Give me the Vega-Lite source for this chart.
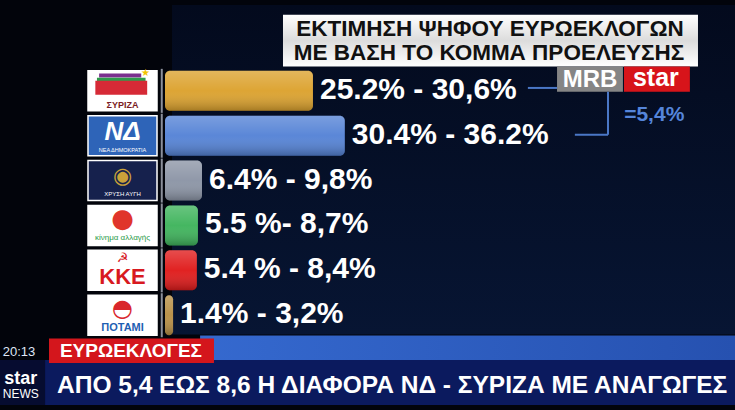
{
  "$schema": "https://vega.github.io/schema/vega-lite/v6.json",
  "width": 735,
  "height": 410,
  "autosize": {"type": "none"},
  "padding": 0,
  "background": "#02040b",
  "config": {"view": {"stroke": null}, "axis": {"disable": true}, "legend": {"disable": true}},
  "resolve": {"scale": {"color": "independent"}},
  "datasets": {
    "parties": [
      {"party": "ΣΥΡΙΖΑ", "row": 1, "share": 27.4, "range": "25.2% - 30,6%", "logo": "", "cap": "ΣΥΡΙΖΑ"},
      {"party": "ΝΔ", "row": 2, "share": 33.3, "range": "30.4% - 36.2%", "logo": "ΝΔ", "cap": "ΝΕΑ ΔΗΜΟΚΡΑΤΙΑ"},
      {"party": "ΧΑ", "row": 3, "share": 6.85, "range": "6.4% - 9,8%", "logo": "◉", "cap": "ΧΡΥΣΗ ΑΥΓΗ"},
      {"party": "ΚΙΝΑΛ", "row": 4, "share": 6.1, "range": "5.5 %- 8,7%", "logo": "●", "cap": "κίνημα αλλαγής"},
      {"party": "ΚΚΕ", "row": 5, "share": 5.9, "range": "5.4 % - 8,4%", "logo": "☭", "cap": "ΚΚΕ"},
      {"party": "ΠΟΤΑΜΙ", "row": 6, "share": 1.5, "range": "1.4% - 3,2%", "logo": "◓", "cap": "ΠΟΤΑΜΙ"}
    ]
  },
  "data": {"name": "parties"},
  "layer": [
    {
      "data": {"values": [{}]},
      "mark": {"type": "rect", "color": {"gradient": "linear", "x1": 0, "y1": 0, "x2": 0, "y2": 1, "stops": [{"offset": 0, "color": "#030a1d"}, {"offset": 1, "color": "#071533"}]}},
      "encoding": {
        "x": {"datum": 1.3, "type": "quantitative", "scale": {"domain": [-30.556, 105.556], "nice": false, "zero": false}},
        "x2": {"datum": 105.6},
        "y": {"datum": -0.913, "type": "quantitative", "scale": {"domain": [-0.913, 8.0], "nice": false, "zero": false, "reverse": true}},
        "y2": {"datum": 6.43}
      }
    },
    {
      "data": {"values": [{}]},
      "mark": {"type": "rect", "color": {"gradient": "linear", "x1": 0, "y1": 0, "x2": 1, "y2": 0, "stops": [{"offset": 0, "color": "#3569cf"}, {"offset": 1, "color": "#2651b0"}]}},
      "encoding": {
        "x": {"datum": 6.5, "type": "quantitative"}, "x2": {"datum": 105.6},
        "y": {"datum": 6.45, "type": "quantitative"}, "y2": {"datum": 7.0}
      }
    },
    {
      "data": {"values": [{}]},
      "mark": {"type": "rect", "color": "#0b1a5e"},
      "encoding": {
        "x": {"datum": -30.6, "type": "quantitative"}, "x2": {"datum": 105.6},
        "y": {"datum": 7.0, "type": "quantitative"}, "y2": {"datum": 8.0}
      }
    },
    {
      "data": {"values": [{}]},
      "mark": {"type": "rect", "color": "#060c30"},
      "encoding": {
        "x": {"datum": -30.6, "type": "quantitative"}, "x2": {"datum": -22.2},
        "y": {"datum": 7.0, "type": "quantitative"}, "y2": {"datum": 8.0}
      }
    },
    {
      "data": {"values": [{}]},
      "mark": {"type": "rect", "color": "#d4161c"},
      "encoding": {
        "x": {"datum": -21.48, "type": "quantitative"}, "x2": {"datum": 9.07},
        "y": {"datum": 6.52, "type": "quantitative"}, "y2": {"datum": 7.065}
      }
    },
    {
      "data": {"values": [{"t": "ΕΥΡΩΕΚΛΟΓΕΣ"}]},
      "mark": {"type": "text", "font": "Liberation Sans", "fontWeight": "bold", "fontSize": 19, "color": "#ffffff", "baseline": "middle", "align": "center"},
      "encoding": {"x": {"datum": -6.3, "type": "quantitative"}, "y": {"datum": 6.8, "type": "quantitative"}, "text": {"field": "t"}}
    },
    {
      "data": {"values": [{"t": "20:13"}]},
      "mark": {"type": "text", "font": "Liberation Sans", "fontSize": 13, "color": "#dfe6f5", "baseline": "middle", "align": "center"},
      "encoding": {"x": {"datum": -27.04, "type": "quantitative"}, "y": {"datum": 6.83, "type": "quantitative"}, "text": {"field": "t"}}
    },
    {
      "data": {"values": [{"t": "star"}]},
      "mark": {"type": "text", "font": "Liberation Sans", "fontWeight": "bold", "fontSize": 18, "color": "#ffffff", "baseline": "middle", "align": "center"},
      "encoding": {"x": {"datum": -26.7, "type": "quantitative"}, "y": {"datum": 7.41, "type": "quantitative"}, "text": {"field": "t"}}
    },
    {
      "data": {"values": [{"t": "NEWS"}]},
      "mark": {"type": "text", "font": "Liberation Sans", "fontSize": 12, "color": "#ffffff", "baseline": "middle", "align": "center"},
      "encoding": {"x": {"datum": -26.7, "type": "quantitative"}, "y": {"datum": 7.76, "type": "quantitative"}, "text": {"field": "t"}}
    },
    {
      "data": {"values": [{"t": "ΑΠΟ 5,4 ΕΩΣ 8,6 Η ΔΙΑΦΟΡΑ ΝΔ - ΣΥΡΙΖΑ ΜΕ ΑΝΑΓΩΓΕΣ"}]},
      "mark": {"type": "text", "font": "Liberation Sans", "fontWeight": "bold", "fontSize": 24.5, "color": "#ffffff", "baseline": "middle", "align": "left"},
      "encoding": {"x": {"datum": -20.0, "type": "quantitative"}, "y": {"datum": 7.587, "type": "quantitative"}, "text": {"field": "t"}}
    },
    {
      "data": {"values": [{}]},
      "mark": {"type": "rect", "color": {"gradient": "linear", "x1": 0, "y1": 0, "x2": 0, "y2": 1, "stops": [{"offset": 0, "color": "#ffffff"}, {"offset": 0.5, "color": "#dcdcdc"}, {"offset": 1, "color": "#ffffff"}]}},
      "encoding": {
        "x": {"datum": 21.85, "type": "quantitative"}, "x2": {"datum": 98.7},
        "y": {"datum": -0.696, "type": "quantitative"}, "y2": {"datum": 0.457}
      }
    },
    {
      "data": {"values": [{"t": "ΕΚΤΙΜΗΣΗ ΨΗΦΟΥ ΕΥΡΩΕΚΛΟΓΩΝ"}]},
      "mark": {"type": "text", "font": "Liberation Sans", "fontWeight": "bold", "fontSize": 22.5, "color": "#111111", "baseline": "middle", "align": "center"},
      "encoding": {"x": {"datum": 60.19, "type": "quantitative"}, "y": {"datum": -0.37, "type": "quantitative"}, "text": {"field": "t"}}
    },
    {
      "data": {"values": [{"t": "ΜΕ ΒΑΣΗ ΤΟ ΚΟΜΜΑ ΠΡΟΕΛΕΥΣΗΣ"}]},
      "mark": {"type": "text", "font": "Liberation Sans", "fontWeight": "bold", "fontSize": 22.5, "color": "#111111", "baseline": "middle", "align": "center"},
      "encoding": {"x": {"datum": 60.0, "type": "quantitative"}, "y": {"datum": 0.152, "type": "quantitative"}, "text": {"field": "t"}}
    },
    {
      "data": {"values": [{}]},
      "mark": {"type": "rect", "color": "#858585"},
      "encoding": {
        "x": {"datum": 72.6, "type": "quantitative"}, "x2": {"datum": 84.8},
        "y": {"datum": 0.457, "type": "quantitative"}, "y2": {"datum": 1.02}
      }
    },
    {
      "data": {"values": [{}]},
      "mark": {"type": "rect", "color": "#d7141a"},
      "encoding": {
        "x": {"datum": 85.0, "type": "quantitative"}, "x2": {"datum": 97.2},
        "y": {"datum": 0.457, "type": "quantitative"}, "y2": {"datum": 1.02}
      }
    },
    {
      "data": {"values": [{"t": "MRB"}]},
      "mark": {"type": "text", "font": "Liberation Sans", "fontWeight": "bold", "fontSize": 24, "color": "#ffffff", "baseline": "middle", "align": "center"},
      "encoding": {"x": {"datum": 78.7, "type": "quantitative"}, "y": {"datum": 0.75, "type": "quantitative"}, "text": {"field": "t"}}
    },
    {
      "data": {"values": [{"t": "star"}]},
      "mark": {"type": "text", "font": "Liberation Sans", "fontWeight": "bold", "fontSize": 25, "color": "#ffffff", "baseline": "middle", "align": "center"},
      "encoding": {"x": {"datum": 90.9, "type": "quantitative"}, "y": {"datum": 0.72, "type": "quantitative"}, "text": {"field": "t"}}
    },
    {
      "data": {"values": [{}]},
      "mark": {"type": "rule", "color": "#4a77c6", "strokeWidth": 2},
      "encoding": {"x": {"datum": 67.2, "type": "quantitative"}, "x2": {"datum": 72.6}, "y": {"datum": 0.935, "type": "quantitative"}, "y2": {"datum": 0.935}}
    },
    {
      "data": {"values": [{}]},
      "mark": {"type": "rule", "color": "#4a77c6", "strokeWidth": 2},
      "encoding": {"x": {"datum": 82.04, "type": "quantitative"}, "x2": {"datum": 82.04}, "y": {"datum": 1.02, "type": "quantitative"}, "y2": {"datum": 1.978}}
    },
    {
      "data": {"values": [{}]},
      "mark": {"type": "rule", "color": "#4a77c6", "strokeWidth": 2},
      "encoding": {"x": {"datum": 75.9, "type": "quantitative"}, "x2": {"datum": 82.04}, "y": {"datum": 1.978, "type": "quantitative"}, "y2": {"datum": 1.978}}
    },
    {
      "data": {"values": [{"t": "=5,4%"}]},
      "mark": {"type": "text", "font": "Liberation Sans", "fontWeight": "bold", "fontSize": 21, "color": "#5585da", "baseline": "middle", "align": "center"},
      "encoding": {"x": {"datum": 90.6, "type": "quantitative"}, "y": {"datum": 1.543, "type": "quantitative"}, "text": {"field": "t"}}
    },
    {
      "mark": {"type": "bar", "orient": "horizontal", "size": 40, "stroke": "#ffffff", "strokeWidth": 1.5},
      "encoding": {
        "x": {"datum": -14.26, "type": "quantitative"}, "x2": {"datum": -1.48},
        "y": {"field": "row", "type": "quantitative"},
        "color": {"field": "party", "type": "nominal", "scale": {"domain": ["ΣΥΡΙΖΑ", "ΝΔ", "ΧΑ", "ΚΙΝΑΛ", "ΚΚΕ", "ΠΟΤΑΜΙ"], "range": ["#ffffff", "#2e64b8", "#16214d", "#ffffff", "#ffffff", "#ffffff"]}}
      }
    },
    {
      "mark": {"type": "tick", "orient": "vertical", "size": 44, "thickness": 2, "color": "#c8ccd8"},
      "encoding": {"x": {"datum": -0.6, "type": "quantitative"}, "y": {"field": "row", "type": "quantitative"}}
    },
    {
      "mark": {"type": "bar", "orient": "horizontal", "size": 40, "cornerRadiusEnd": 5},
      "encoding": {
        "x": {"field": "share", "type": "quantitative"}, "x2": {"datum": 0},
        "y": {"field": "row", "type": "quantitative"},
        "color": {"field": "party", "type": "nominal", "scale": {"domain": ["ΣΥΡΙΖΑ", "ΝΔ", "ΧΑ", "ΚΙΝΑΛ", "ΚΚΕ", "ΠΟΤΑΜΙ"], "range": ["#dca22e", "#5583d6", "#8c95a6", "#3fb45c", "#e01b1b", "#b88f45"]}}
      }
    },
    {
      "mark": {"type": "bar", "orient": "horizontal", "size": 40, "cornerRadiusEnd": 5, "color": {"gradient": "linear", "x1": 0, "y1": 0, "x2": 0, "y2": 1, "stops": [{"offset": 0, "color": "rgba(255,255,255,0.22)"}, {"offset": 0.5, "color": "rgba(255,255,255,0.03)"}, {"offset": 1, "color": "rgba(0,0,0,0.25)"}]}},
      "encoding": {
        "x": {"field": "share", "type": "quantitative"}, "x2": {"datum": 0},
        "y": {"field": "row", "type": "quantitative"}
      }
    },
    {
      "mark": {"type": "text", "font": "Liberation Sans", "fontWeight": "bold", "fontSize": 30, "color": "#ffffff", "baseline": "middle", "align": "left", "dx": 7, "dy": -1},
      "encoding": {"x": {"field": "share", "type": "quantitative"}, "y": {"field": "row", "type": "quantitative"}, "text": {"field": "range"}}
    },
    {
      "data": {"values": [{}]},
      "mark": {"type": "bar", "orient": "horizontal", "size": 4, "color": "#7b2f8e"},
      "encoding": {"x": {"datum": -12.2, "type": "quantitative"}, "x2": {"datum": -4.4}, "y": {"datum": 0.66, "type": "quantitative"}}
    },
    {
      "data": {"values": [{}]},
      "mark": {"type": "bar", "orient": "horizontal", "size": 4, "color": "#2f9a4c"},
      "encoding": {"x": {"datum": -12.6, "type": "quantitative"}, "x2": {"datum": -3.6}, "y": {"datum": 0.75, "type": "quantitative"}}
    },
    {
      "data": {"values": [{}]},
      "mark": {"type": "bar", "orient": "horizontal", "size": 14, "color": "#d62a36"},
      "encoding": {"x": {"datum": -12.9, "type": "quantitative"}, "x2": {"datum": -3.3}, "y": {"datum": 0.93, "type": "quantitative"}}
    },
    {
      "data": {"values": [{"t": "★"}]},
      "mark": {"type": "text", "font": "DejaVu Sans", "fontSize": 10, "color": "#f2c400", "baseline": "middle", "align": "center"},
      "encoding": {"x": {"datum": -3.6, "type": "quantitative"}, "y": {"datum": 0.6, "type": "quantitative"}, "text": {"field": "t"}}
    },
    {
      "transform": [{"filter": "datum.party === 'ΣΥΡΙΖΑ'"}],
      "mark": {"type": "text", "font": "Liberation Sans", "fontWeight": "bold", "fontSize": 9, "color": "#7a1c24", "baseline": "middle", "align": "center", "dy": 14},
      "encoding": {"x": {"datum": -7.87, "type": "quantitative"}, "y": {"field": "row", "type": "quantitative"}, "text": {"field": "cap"}}
    },
    {
      "transform": [{"filter": "datum.party === 'ΝΔ'"}],
      "mark": {"type": "text", "font": "Liberation Sans", "fontWeight": "bold", "fontStyle": "italic", "fontSize": 26, "color": "#ffffff", "baseline": "middle", "align": "center", "dy": -4},
      "encoding": {"x": {"datum": -7.87, "type": "quantitative"}, "y": {"field": "row", "type": "quantitative"}, "text": {"field": "logo"}}
    },
    {
      "transform": [{"filter": "datum.party === 'ΝΔ'"}],
      "mark": {"type": "text", "font": "Liberation Sans", "fontSize": 5.5, "color": "#ffffff", "baseline": "middle", "align": "center", "dy": 14},
      "encoding": {"x": {"datum": -7.87, "type": "quantitative"}, "y": {"field": "row", "type": "quantitative"}, "text": {"field": "cap"}}
    },
    {
      "transform": [{"filter": "datum.party === 'ΧΑ'"}],
      "mark": {"type": "text", "font": "DejaVu Sans", "fontSize": 22, "color": "#caa23a", "baseline": "middle", "align": "center", "dy": -5},
      "encoding": {"x": {"datum": -7.87, "type": "quantitative"}, "y": {"field": "row", "type": "quantitative"}, "text": {"field": "logo"}}
    },
    {
      "transform": [{"filter": "datum.party === 'ΧΑ'"}],
      "mark": {"type": "text", "font": "Liberation Sans", "fontSize": 6, "color": "#ffffff", "baseline": "middle", "align": "center", "dy": 13},
      "encoding": {"x": {"datum": -7.87, "type": "quantitative"}, "y": {"field": "row", "type": "quantitative"}, "text": {"field": "cap"}}
    },
    {
      "transform": [{"filter": "datum.party === 'ΚΙΝΑΛ'"}],
      "mark": {"type": "text", "font": "DejaVu Sans", "fontSize": 26, "color": "#e0352b", "baseline": "middle", "align": "center", "dy": -6},
      "encoding": {"x": {"datum": -7.87, "type": "quantitative"}, "y": {"field": "row", "type": "quantitative"}, "text": {"field": "logo"}}
    },
    {
      "transform": [{"filter": "datum.party === 'ΚΙΝΑΛ'"}],
      "mark": {"type": "text", "font": "Liberation Sans", "fontSize": 8, "color": "#2a9a48", "baseline": "middle", "align": "center", "dy": 13},
      "encoding": {"x": {"datum": -7.87, "type": "quantitative"}, "y": {"field": "row", "type": "quantitative"}, "text": {"field": "cap"}}
    },
    {
      "transform": [{"filter": "datum.party === 'ΚΚΕ'"}],
      "mark": {"type": "text", "font": "DejaVu Sans", "fontSize": 13, "color": "#d8191f", "baseline": "middle", "align": "center", "dy": -12},
      "encoding": {"x": {"datum": -7.87, "type": "quantitative"}, "y": {"field": "row", "type": "quantitative"}, "text": {"field": "logo"}}
    },
    {
      "transform": [{"filter": "datum.party === 'ΚΚΕ'"}],
      "mark": {"type": "text", "font": "Liberation Sans", "fontWeight": "bold", "fontSize": 22, "color": "#d8191f", "baseline": "middle", "align": "center", "dy": 7},
      "encoding": {"x": {"datum": -7.87, "type": "quantitative"}, "y": {"field": "row", "type": "quantitative"}, "text": {"field": "cap"}}
    },
    {
      "transform": [{"filter": "datum.party === 'ΠΟΤΑΜΙ'"}],
      "mark": {"type": "text", "font": "DejaVu Sans", "fontSize": 24, "color": "#d9262c", "baseline": "middle", "align": "center", "dy": -6},
      "encoding": {"x": {"datum": -7.87, "type": "quantitative"}, "y": {"field": "row", "type": "quantitative"}, "text": {"field": "logo"}}
    },
    {
      "transform": [{"filter": "datum.party === 'ΠΟΤΑΜΙ'"}],
      "mark": {"type": "text", "font": "Liberation Sans", "fontWeight": "bold", "fontSize": 11, "color": "#1f5fb3", "baseline": "middle", "align": "center", "dy": 13},
      "encoding": {"x": {"datum": -7.87, "type": "quantitative"}, "y": {"field": "row", "type": "quantitative"}, "text": {"field": "cap"}}
    }
  ]
}
